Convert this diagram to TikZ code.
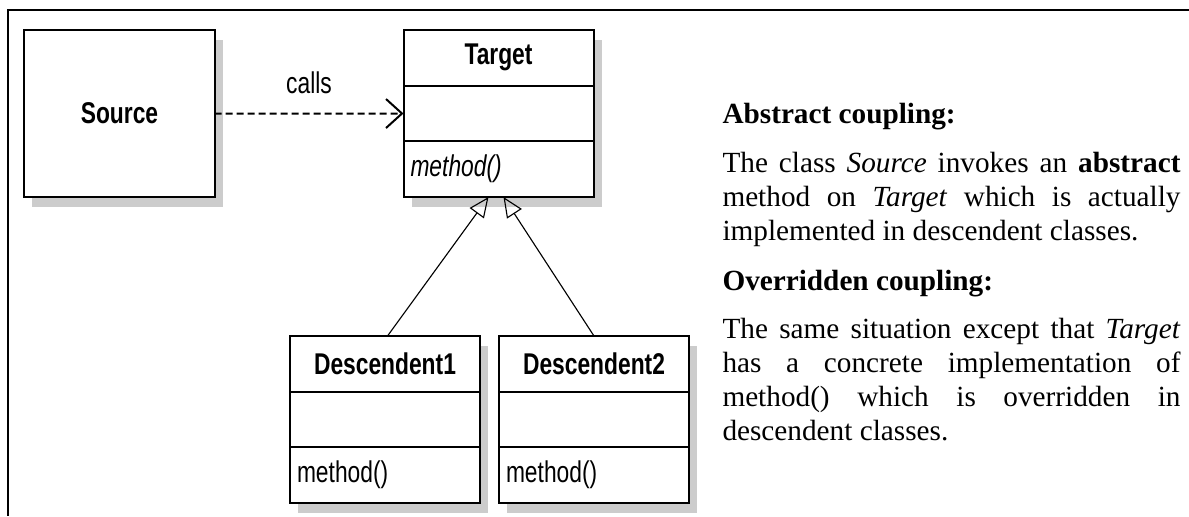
\documentclass[tikz,border=0pt]{standalone}
\usepackage{fontspec}
\setmainfont{Liberation Serif}
\newfontfamily\umlfont[FakeStretch=0.76]{Liberation Sans}
\usetikzlibrary{arrows.meta, positioning, shadows}

\begin{document}
\begin{tikzpicture}[
    x=0.4pt, y=0.4pt,
    classbox/.style={draw, line width=0.8pt, fill=white, outer sep=0pt, inner sep=2.8pt,
        minimum width=76pt, font=\umlfont\fontsize{12}{14}\selectfont,
        drop shadow={shadow xshift=3.2pt, shadow yshift=-4pt, fill=gray!40, opacity=1}},
    classpart/.style={classbox, minimum height=22.27pt},
    classtitle/.style={classpart, font=\umlfont\fontsize{12}{14}\selectfont\bfseries},
    classmethod/.style={classpart, text width=70.4pt, align=left},
    calls_arrow/.style={-{Straight Barb[length=6.4pt, width=11.6pt]}, line width=0.8pt, dash pattern=on 2.8pt off 1.6pt},
    inherit_arrow/.style={-{Triangle[open, length=8pt, width=7pt]}, line width=0.45pt},
    heading/.style={font=\fontsize{11.7}{13.6}\selectfont\bfseries, anchor=base west, inner sep=0pt},
    para/.style={font=\fontsize{11.7}{13.6}\selectfont, anchor=base west, inner sep=0pt, text width=183.2pt, align=justify}
]
    \useasboundingbox (0,0) rectangle (1189,-516);

    % Page frame
    \draw[line width=1pt] (1189,-10) -- (8,-10) -- (8,-516);

    % Classes
    \node[classbox, font=\umlfont\fontsize{12}{14}\selectfont\bfseries, minimum height=66.8pt] (source) at (119.5,-113.5) {Source};

    \node[classtitle, right=75.6pt of source.north east, anchor=north west] (ttitle) {Target};
    \node[classpart, below=0pt of ttitle] (tattr) {};
    \node[classmethod, below=0pt of tattr, font=\umlfont\fontsize{12}{14}\selectfont\itshape] (tmeth) {method()};

    \node[classtitle, anchor=north west] (d1title) at (290,-336) {Descendent1};
    \node[classpart, below=0pt of d1title] (d1attr) {};
    \node[classmethod, below=0pt of d1attr] (d1meth) {method()};

    \node[classtitle, right=7.6pt of d1title] (d2title) {Descendent2};
    \node[classpart, below=0pt of d2title] (d2attr) {};
    \node[classmethod, below=0pt of d2attr] (d2meth) {method()};

    % Dependency
    \draw[calls_arrow] (source.east) -- node[above=4pt, font=\umlfont\fontsize{12}{14}\selectfont] (callslabel) {calls} (tattr.west);

    % Generalisation
    \draw[inherit_arrow] ([xshift=1pt]d1title.north) -- ([xshift=-4pt]tmeth.south);
    \draw[inherit_arrow] (d2title.north) -- ([xshift=2pt]tmeth.south);

    % Explanation
    \node[heading] (abshead) at (722,-123) {Abstract coupling:};
    \node[para] (abstext) at (722,-172) {The class \textit{Source} invokes an \textbf{abstract}\linebreak
        method on \textit{Target} which is actually\linebreak
        implemented in descendent classes.};
    \node[heading] (ovrhead) at (722,-290) {Overridden coupling:};
    \node[para] (ovrtext) at (722,-338) {The same situation except that \textit{Target}\linebreak
        has a concrete implementation of\linebreak
        method() which is overridden in\linebreak
        descendent classes.};

\end{tikzpicture}
\end{document}
